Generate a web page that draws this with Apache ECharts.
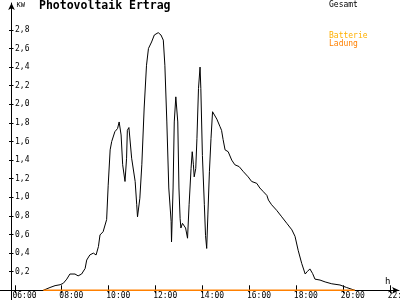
<!DOCTYPE html>
<html><head><meta charset="utf-8">
<script src="https://cdn.jsdelivr.net/npm/echarts@6/dist/echarts.min.js"></script>
<style>html,body{margin:0;padding:0;background:#fff}#c{width:400px;height:300px}</style>
</head><body><div id="c"></div>
<script>
const gesamtTimes = ['07:13','07:30','07:43','07:56','08:04','08:13','08:21','08:26','08:34','08:42','08:51','09:00','09:04','09:12','09:21','09:28','09:34','09:38','09:46','09:55','09:59','10:04','10:08','10:16','10:23','10:27','10:32','10:36','10:42','10:46','10:48','10:52','10:59','11:03','11:08','11:12','11:14','11:20','11:25','11:31','11:37','11:42','11:50','11:57','12:07','12:14','12:20','12:24','12:29','12:34','12:40','12:41','12:45','12:48','12:52','12:55','12:57','13:00','13:03','13:05','13:09','13:13','13:17','13:22','13:26','13:31','13:34','13:37','13:39','13:43','13:46','13:50','13:54','13:56','14:00','14:05','14:08','14:11','14:14','14:18','14:22','14:26','14:30','14:37','14:45','14:49','14:53','14:58','15:06','15:15','15:23','15:34','15:45','15:57','16:06','16:19','16:27','16:36','16:45','16:49','16:57','17:10','17:23','17:36','17:49','17:57','18:05','18:14','18:23','18:28','18:35','18:42','18:48','19:01','19:14','19:31','19:52','20:09','20:30'];
const gesamtValues = [0,0.03,0.05,0.06,0.075,0.12,0.175,0.19,0.175,0.155,0.175,0.235,0.325,0.38,0.40,0.38,0.47,0.595,0.63,0.76,1.13,1.51,1.60,1.705,1.74,1.81,1.67,1.35,1.17,1.42,1.72,1.75,1.42,1.40,1.17,0.92,0.79,0.99,1.35,1.96,2.42,2.60,2.67,2.745,2.77,2.745,2.69,2.42,1.81,1.10,0.74,0.52,1.10,1.81,2.08,2.10,1.81,1.10,0.77,0.67,0.72,0.74,0.67,0.56,0.92,1.31,1.49,1.35,1.22,1.31,1.63,2.17,2.40,2.17,1.45,0.92,0.59,0.45,0.81,1.28,1.63,1.92,1.92,1.84,1.76,1.72,1.62,1.51,1.49,1.40,1.35,1.33,1.275,1.22,1.17,1.15,1.10,1.06,1.02,0.97,0.92,0.86,0.79,0.72,0.65,0.58,0.43,0.29,0.175,0.20,0.23,0.18,0.12,0.11,0.09,0.07,0.057,0.03,0];
const ladungTimes = ['07:13','20:30'];
const ladungValues = [0,0];
const xTickLabels = ['06:00','08:00','10:00','12:00','14:00','16:00','18:00','20:00','22:00'];
const yTickValues = [0.2,0.4,0.6,0.8,1.0,1.2,1.4,1.6,1.8,2.0,2.2,2.4,2.6,2.8];

const MONO = '"DejaVu Sans Mono", monospace';
function toMin(t){const p=t.split(':').map(Number);return p[0]*60+p[1];}
function fmtMin(v){const m=Math.round(v);const h=Math.floor(m/60),mm=m%60;return String(h).padStart(2,'0')+':'+String(mm).padStart(2,'0');}
const xTicks = xTickLabels.map(toMin);
const LABEL_SHIFT = -6;
const XMIN = 351.6, XMAX = 1343, YMIN = 0, YMAX = 3.089;

const chart = echarts.init(document.getElementById('c'), null, {renderer:'canvas'});
const option = {
  animation:false,
  backgroundColor:'#fff',
  title:{text:'Photovoltaik Ertrag',left:39,top:0,padding:0,
    textStyle:{fontFamily:MONO,fontSize:11.5,fontWeight:'bold',color:'#000'}},
  grid:{left:11.5,right:1,top:3,bottom:9.7,containLabel:false,outerBoundsMode:'none'},
  xAxis:[{
    type:'value',min:XMIN,max:XMAX,
    name:'h',nameLocation:'end',nameGap:-14,
    nameTextStyle:{fontFamily:MONO,fontSize:9,color:'#000',align:'left',verticalAlign:'bottom',padding:[0,0,4,0]},
    axisLine:{onZero:false,symbol:['none','arrow'],symbolSize:[5,7],lineStyle:{color:'#000',width:1}},
    axisTick:{customValues:xTicks,inside:true,length:5,lineStyle:{color:'#000',width:1}},
    axisLabel:{customValues:xTicks.map(v=>v+LABEL_SHIFT),formatter:v=>fmtMin(v-LABEL_SHIFT),
      align:'left',margin:1.5,fontFamily:MONO,fontSize:8,color:'#000',hideOverlap:false},
    splitLine:{show:false}
  },{
    type:'value',min:XMIN,max:XMAX,position:'bottom',
    axisLine:{show:false},
    axisTick:{customValues:xTicks,inside:false,length:3,lineStyle:{color:'#000',width:1}},
    axisLabel:{show:false},splitLine:{show:false}
  }],
  yAxis:[{
    type:'value',min:YMIN,max:YMAX,
    name:'KW',nameLocation:'end',nameGap:1,
    nameTextStyle:{fontFamily:MONO,fontSize:7,color:'#000',align:'left',verticalAlign:'top',padding:[0,0,0,5]},
    axisLine:{onZero:false,symbol:['none','arrow'],symbolSize:[5,7],lineStyle:{color:'#000',width:1}},
    axisTick:{customValues:yTickValues,inside:false,length:2.5,lineStyle:{color:'#000',width:1}},
    axisLabel:{customValues:yTickValues,inside:true,margin:3.5,align:'left',
      formatter:v=>v.toFixed(1).replace('.',','),fontFamily:MONO,fontSize:8,color:'#000'},
    splitLine:{show:false}
  },{
    type:'value',min:YMIN,max:YMAX,position:'left',
    axisLine:{show:false},
    axisTick:{customValues:yTickValues,inside:true,length:2,lineStyle:{color:'#000',width:1}},
    axisLabel:{show:false},splitLine:{show:false}
  }],
  series:[
    {name:'Gesamt',type:'line',xAxisIndex:0,yAxisIndex:0,
      data:gesamtTimes.map((t,i)=>[toMin(t),gesamtValues[i]]),
      symbol:'none',showSymbol:false,lineStyle:{color:'#000',width:1},itemStyle:{color:'#000'},z:3},
    {name:'Batterie',type:'line',data:[],symbol:'none',lineStyle:{color:'#FFB000'},itemStyle:{color:'#FFB000'}},
    {name:'Ladung',type:'line',xAxisIndex:0,yAxisIndex:0,clip:false,
      data:ladungTimes.map((t,i)=>[toMin(t),ladungValues[i]]),
      symbol:'none',showSymbol:false,lineStyle:{color:'#FF8000',width:1.5},itemStyle:{color:'#FF8000'},z:4}
  ]
};
chart.setOption(option);

const o = chart.convertToPixel({xAxisIndex:0,yAxisIndex:0},[XMIN,0]);
const ax = Math.round(o[0]-0.5)+0.5, ay = Math.round(o[1]-0.5)+0.5;
chart.setOption({graphic:[
  {type:'line',shape:{x1:0,y1:ay,x2:ax,y2:ay},style:{stroke:'#000',lineWidth:1},silent:true},
  {type:'line',shape:{x1:ax,y1:ay,x2:ax,y2:300},style:{stroke:'#000',lineWidth:1},silent:true},
  {type:'text',x:329,y:0.5,style:{text:'Gesamt',fill:'#000',font:'8px '+MONO,verticalAlign:'top'}},
  {type:'text',x:329,y:31.5,style:{text:'Batterie',fill:'#FFB000',font:'8px '+MONO,verticalAlign:'top'}},
  {type:'text',x:329,y:39.5,style:{text:'Ladung',fill:'#FF8000',font:'8px '+MONO,verticalAlign:'top'}}
]});
</script></body></html>
